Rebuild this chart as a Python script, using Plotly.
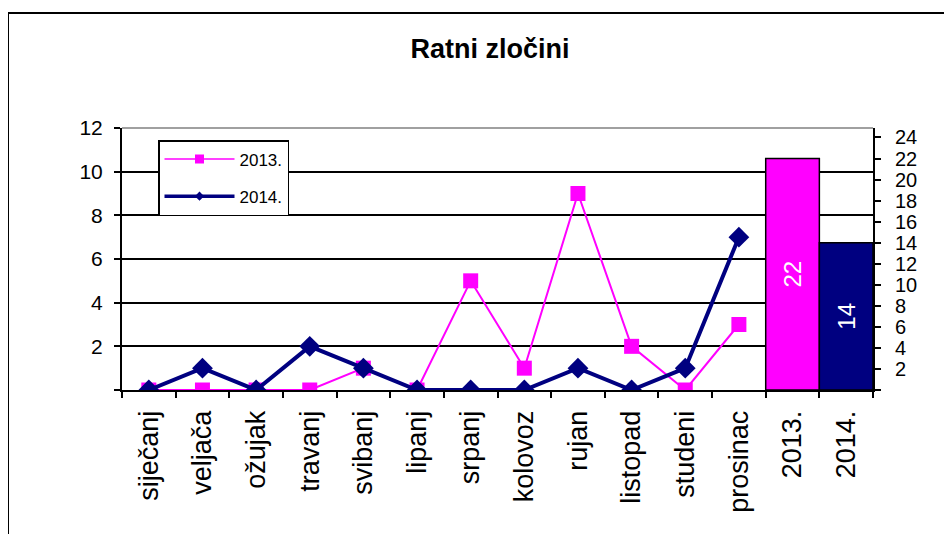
import plotly.graph_objects as go

months = ["siječanj", "veljača", "ožujak", "travanj", "svibanj", "lipanj",
          "srpanj", "kolovoz", "rujan", "listopad", "studeni", "prosinac"]
year_labels = ["2013.", "2014."]
values_2013 = [0, 0, 0, 0, 1, 0, 5, 1, 9, 2, 0, 3]
values_2014 = [0, 1, 0, 2, 1, 0, 0, 0, 1, 0, 1, 7]
totals = [22, 14]

left_ticks = [0, 2, 4, 6, 8, 10, 12]
right_ticks = list(range(0, 26, 2))

MAGENTA = "#FF00FF"
NAVY = "#000080"
FONT = "Liberation Sans, Arial, sans-serif"

# page body has an 8px margin; compensate so the plot area lands where the reference has it
OFF = 8
W, H = 952, 534
PL, PR, PT, PB = 122, 873, 128, 390          # target plot area in window pixels
L, T = PL - OFF, PT - OFF
pw, ph = PR - PL, PB - PT
R, B = W - L - pw, H - T - ph

def px_x(x):
    return (x - PL) / pw

def px_y(y):
    return (PB - y) / ph

fig = go.Figure()

fig.add_trace(go.Scatter(
    x=months, y=values_2013, name="2013.", mode="lines+markers",
    line=dict(color=MAGENTA, width=2),
    marker=dict(symbol="square", size=15, color=MAGENTA),
    showlegend=False,
))
fig.add_trace(go.Scatter(
    x=months, y=values_2014, name="2014.", mode="lines+markers",
    line=dict(color=NAVY, width=4),
    marker=dict(symbol="diamond", size=16, color=NAVY),
    showlegend=False,
))
# legend entries (smaller symbols, as in the reference legend)
fig.add_trace(go.Scatter(
    x=[None], y=[None], name="2013.", mode="lines+markers",
    line=dict(color=MAGENTA, width=1.5),
    marker=dict(symbol="square", size=9, color=MAGENTA),
    legendgroup="a",
))
fig.add_trace(go.Scatter(
    x=[None], y=[None], name="2014.", mode="lines+markers",
    line=dict(color=NAVY, width=3.5),
    marker=dict(symbol="diamond", size=7, color=NAVY),
    legendgroup="b",
))
fig.add_trace(go.Bar(
    x=year_labels, y=totals, yaxis="y2", width=1,
    marker=dict(color=[MAGENTA, NAVY], line=dict(color="black", width=1.5)),
    text=[str(v) for v in totals], textposition="inside",
    insidetextanchor="middle", textangle=-90,
    textfont=dict(color="white", size=24, family=FONT),
    showlegend=False, hoverinfo="skip",
))

fig.update_layout(
    width=W, height=H,
    margin=dict(l=L, r=R, t=T, b=B),
    paper_bgcolor="white", plot_bgcolor="white",
    font=dict(family=FONT, color="black"),
    title=dict(text="<b>Ratni zločini</b>", font=dict(size=27, family=FONT, color="black"),
               x=px_x(490), xref="paper", xanchor="center",
               y=1 - (49 - OFF) / H, yref="container", yanchor="middle"),
    xaxis=dict(
        type="category", categoryorder="array", categoryarray=months + year_labels,
        range=[-0.5, len(months) + len(year_labels) - 0.5],
        showline=True, linecolor="black", linewidth=2,
        ticks="outside", tickson="boundaries", ticklen=6, tickwidth=1.5, tickcolor="black",
        tickangle=-90, tickfont=dict(size=27, family=FONT, color="black"),
        ticklabelstandoff=8,
        showgrid=False, zeroline=False,
    ),
    yaxis=dict(
        range=[0, 12], tickvals=left_ticks,
        ticktext=["" if v == 0 else str(v) for v in left_ticks],
        showline=True, linecolor="black", linewidth=2,
        ticks="outside", ticklen=6, tickwidth=1.5, tickcolor="black",
        tickfont=dict(size=21, family=FONT, color="black"),
        ticklabelstandoff=7,
        showgrid=True, gridcolor="black", gridwidth=1.5, zeroline=False,
    ),
    yaxis2=dict(
        overlaying="y", side="right", range=[0, 24.9], tickvals=right_ticks,
        ticktext=["" if v == 0 else str(v) for v in right_ticks],
        showline=True, linecolor="black", linewidth=2,
        ticks="outside", ticklen=6, tickwidth=1.5, tickcolor="black",
        tickfont=dict(size=20, family=FONT, color="black"),
        ticklabelstandoff=10,
        showgrid=False, zeroline=False,
    ),
    barmode="overlay",
    legend=dict(
        x=px_x(158), y=px_y(140), xanchor="left", yanchor="top",
        bgcolor="white", bordercolor="black", borderwidth=1.5,
        font=dict(size=17, family=FONT, color="black"),
        traceorder="grouped", tracegroupgap=12, itemwidth=70,
    ),
    shapes=[
        dict(type="line", xref="paper", yref="paper", x0=0, x1=1, y0=1, y1=1,
             line=dict(color="#808080", width=1.5), layer="above"),
        dict(type="rect", xref="paper", yref="paper",
             x0=px_x(8), x1=px_x(970), y0=px_y(13), y1=px_y(560),
             line=dict(color="black", width=2), fillcolor="rgba(0,0,0,0)", layer="below"),
    ],
)

fig.write_html("out.html")
